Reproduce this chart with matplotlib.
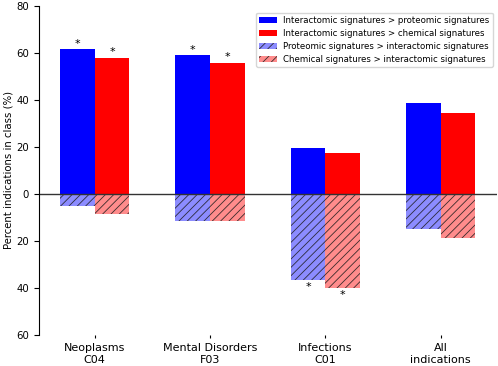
import numpy as np
import matplotlib
matplotlib.use('Agg')
import matplotlib.pyplot as plt

categories = ['Neoplasms\nC04', 'Mental Disorders\nF03', 'Infections\nC01', 'All\nindications']
inter_gt_prot = [61.5, 59.0, 19.7, 38.7]
inter_gt_chem = [58.0, 55.7, 17.6, 34.6]
prot_gt_inter = [5.3, 11.4, 36.5, 15.1]
chem_gt_inter = [8.5, 11.4, 39.9, 18.8]
sig_pos_prot = [True, True, False, False]
sig_pos_chem = [True, True, False, False]
sig_neg_prot = [False, False, True, False]
sig_neg_chem = [False, False, True, False]

plt.rcParams['hatch.linewidth'] = 0.6

x = np.arange(len(categories))
w = 0.3

fig = plt.figure(figsize=(4.98, 3.66), dpi=100)
ax = fig.add_axes([0.078, 0.085, 0.92, 0.899])

ax.bar(x - w/2, inter_gt_prot, w, color='blue', lw=0,
       label='Interactomic signatures > proteomic signatures')
ax.bar(x + w/2, inter_gt_chem, w, color='red', lw=0,
       label='Interactomic signatures > chemical signatures')
ax.bar(x - w/2, -np.array(prot_gt_inter), w, color=(0, 0, 1, 0.45), edgecolor=(0.1, 0.1, 0.1, 0.85),
       lw=0, hatch='////', label='Proteomic signatures > interactomic signatures')
ax.bar(x + w/2, -np.array(chem_gt_inter), w, color=(1, 0, 0, 0.45), edgecolor=(0.1, 0.1, 0.1, 0.85),
       lw=0, hatch='////', label='Chemical signatures > interactomic signatures')

for i in range(len(categories)):
    if sig_pos_prot[i]:
        ax.text(x[i] - w/2, inter_gt_prot[i] + 0.3, '*', ha='center', va='bottom', fontsize=8)
    if sig_pos_chem[i]:
        ax.text(x[i] + w/2, inter_gt_chem[i] + 0.3, '*', ha='center', va='bottom', fontsize=8)
    if sig_neg_prot[i]:
        ax.text(x[i] - w/2, -prot_gt_inter[i] - 1.2, '*', ha='center', va='top', fontsize=8)
    if sig_neg_chem[i]:
        ax.text(x[i] + w/2, -chem_gt_inter[i] - 1.2, '*', ha='center', va='top', fontsize=8)

ax.axhline(0, color='#333333', lw=1)
ax.set_xlim(-0.485, 3.49)
ax.set_ylim(-60, 80)
yt = [-60, -40, -20, 0, 20, 40, 60, 80]
ax.set_yticks(yt)
ax.set_yticklabels([str(abs(v)) for v in yt], fontsize=7.3)
ax.set_xticks(x)
ax.set_xticklabels(categories, fontsize=8)
ax.tick_params(axis='x', length=2, pad=4)
ax.tick_params(axis='y', length=3.5)
ax.set_ylabel('Percent indications in class (%)', fontsize=7.3, labelpad=2)

ax.spines['top'].set_visible(False)
ax.spines['right'].set_visible(False)
ax.spines['bottom'].set_visible(False)

ax.legend(loc='upper right', fontsize=6.2, frameon=True, borderaxespad=0.4,
          labelspacing=0.45, bbox_to_anchor=(0.999, 0.99))

fig.savefig('out.png', dpi=100)
